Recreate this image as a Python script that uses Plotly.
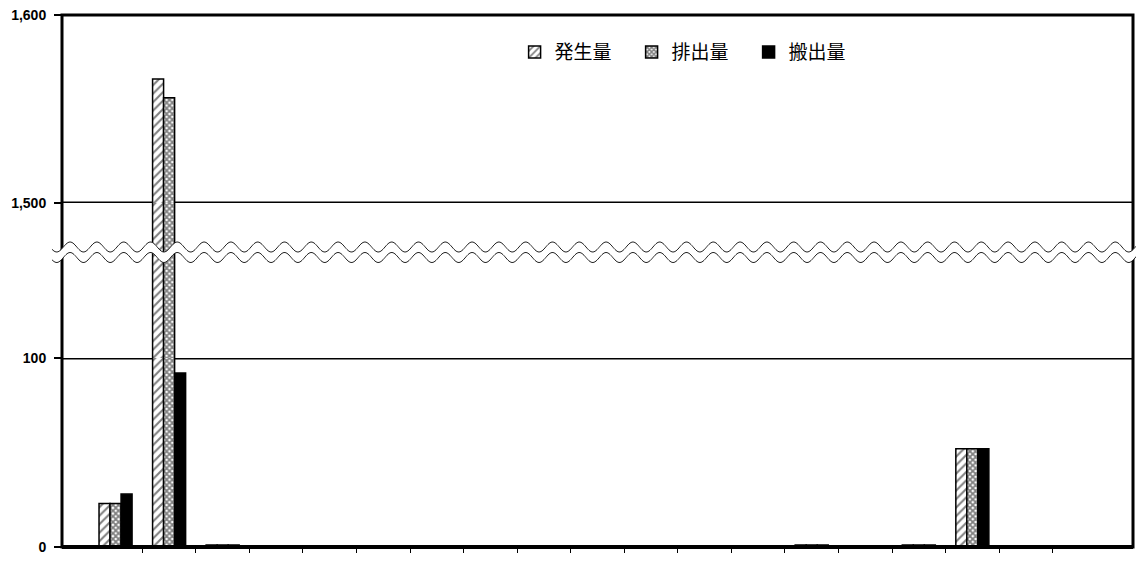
import plotly.graph_objects as go
import math

# categories (19 slots, no labels shown on the axis)
cats = list(range(19))
names = ["発生量", "排出量", "搬出量"]
gen = [23, 1566, 1, 0, 0, 0, 0, 0, 0, 0, 0, 0, 0, 1, 0, 1, 52, 0, 0]
dis = [23, 1556, 1, 0, 0, 0, 0, 0, 0, 0, 0, 0, 0, 1, 0, 1, 52, 0, 0]
out = [28, 92, 1, 0, 0, 0, 0, 0, 0, 0, 0, 0, 0, 1, 0, 1, 52, 0, 0]
series = [gen, dis, out]

# broken axis segments: (axis id, range, domain)
segments = [
    ("y", [0, 100], [0, 0.3553]),
    ("y2", [100, 1500], [0.3553, 0.6466]),
    ("y3", [1500, 1600], [0.6466, 1]),
]

patterns = [
    dict(shape="/", fgcolor="black", bgcolor="white", size=6, solidity=0.35),
    dict(shape="x", fgcolor="black", bgcolor="white", size=4, solidity=0.7),
    dict(shape="", fgcolor="black", bgcolor="black"),
]
colors = ["white", "white", "black"]

fig = go.Figure()
for si, (yid, rng, dom) in enumerate(segments):
    for name, vals, pat, col in zip(names, series, patterns, colors):
        fig.add_trace(go.Bar(
            x=cats, y=vals, name=name,
            xaxis="x", yaxis=yid,
            marker=dict(color=col, pattern=pat, line=dict(color="black", width=1.5)),
            showlegend=(si == 0),
        ))

axis_font = dict(family="Liberation Sans", size=14, color="black")
ytick = dict(ticks="outside", ticklen=7, tickwidth=2, tickcolor="black", automargin=False,
             ticklabelstandoff=5, ticklabeloverflow="allow",
             showgrid=False, zeroline=False, showline=False, anchor="x")
# page body has an 8px margin, so the figure is 8px smaller than the window
fig.update_layout(
    width=1136, height=555,
    margin=dict(l=54, r=11, t=7, b=16, autoexpand=False),
    paper_bgcolor="white", plot_bgcolor="white",
    barmode="group", bargap=0.383, bargroupgap=0,
    font=axis_font,
    showlegend=True,
    legend=dict(
        orientation="h", x=0.4226, y=0.966, xanchor="left", yanchor="top",
        font=dict(family="Noto Sans CJK JP", size=19, color="black"),
        bgcolor="rgba(0,0,0,0)", traceorder="normal",
        entrywidth=72, entrywidthmode="pixels",
    ),
    xaxis=dict(
        range=[-1, 19], showgrid=False, zeroline=False, automargin=False,
        tickmode="array", tickvals=[c + 0.5 for c in cats[:-1]],
        showticklabels=False, ticks="outside", ticklen=5, tickwidth=1,
        tickcolor="black", showline=False, anchor="y",
    ),
    yaxis=dict(range=[0, 100], domain=segments[0][2], tickvals=[0, 100],
               ticktext=["<b>0</b>", "<b>100</b>"], **ytick),
    yaxis2=dict(
        range=[100, 1500], domain=segments[1][2], showticklabels=False, ticks="",
        automargin=False,
        showgrid=False, zeroline=False, showline=False, anchor="x",
    ),
    yaxis3=dict(range=[1500, 1600], domain=segments[2][2], tickvals=[1500, 1600],
                ticktext=["<b>1,500</b>", "<b>1,600</b>"], **ytick),
)

# gridlines at 100 and 1500 (behind the bars)
fig.add_shape(type="line", xref="paper", yref="y", x0=0, x1=1, y0=100, y1=100,
              line=dict(color="black", width=3), layer="below")
fig.add_shape(type="line", xref="paper", yref="y3", x0=0, x1=1, y0=1500, y1=1500,
              line=dict(color="black", width=3), layer="below")

# plot frame
fig.add_shape(type="rect", xref="paper", yref="paper", x0=0, x1=1, y0=0, y1=1,
              line=dict(color="black", width=3), fillcolor="rgba(0,0,0,0)", layer="above")
# thicker baseline
fig.add_shape(type="line", xref="paper", yref="paper", x0=0, x1=1, y0=0, y1=0,
              line=dict(color="black", width=4), layer="above")

# wavy break band (screen pixel geometry of the plot area: x 62..1133, y 15..547)
W, H, X0, YB = 1071.0, 532.0, 62.0, 547.0


def px(xp):
    return (xp - X0) / W


def py(yp):
    return (YB - yp) / H


period, amp = 26.8, 5.0
xs = [52 + i * 1.0 for i in range(0, 1090)]
upper = [(px(x), py(247 + amp * math.sin(2 * math.pi * (x - 50) / period))) for x in xs]
lower = [(px(x), py(257.5 + amp * math.sin(2 * math.pi * (x - 50) / period))) for x in xs]


def path_of(pts):
    return "M " + " L ".join(f"{a:.5f},{b:.5f}" for a, b in pts)


band = path_of(upper + lower[::-1]) + " Z"
fig.add_shape(type="path", xref="paper", yref="paper", path=band,
              fillcolor="white", line=dict(width=0), layer="above")
for pts in (upper, lower):
    fig.add_shape(type="path", xref="paper", yref="paper", path=path_of(pts),
                  line=dict(color="#222", width=1), layer="above")

fig.write_html("out.html")
